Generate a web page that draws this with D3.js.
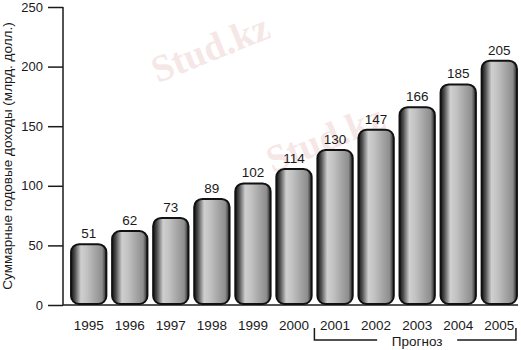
<!DOCTYPE html>
<html>
<head>
<meta charset="utf-8">
<script src="https://cdn.jsdelivr.net/npm/d3@7"></script>
<style>
  body { margin: 0; background: #fff; }
  text { font-family: "Liberation Sans", Arial, sans-serif; fill: #1a1a1a; }
</style>
</head>
<body>
<div id="chart"></div>
<script>
// data
var years = ["1995","1996","1997","1998","1999","2000","2001","2002","2003","2004","2005"];
var incomes = [51, 62, 73, 89, 102, 114, 130, 147, 166, 185, 205];
var yTicks = [0, 50, 100, 150, 200, 250];
var forecastYears = ["2001","2005"];
var yTitle = "Суммарные годовые доходы (млрд. долл.)";
var forecastLabel = "Прогноз";

var W = 521, H = 350;
var svg = d3.select("#chart").append("svg")
    .attr("width", W)
    .attr("height", H);

var defs = svg.append("defs");
var grad = defs.append("linearGradient")
    .attr("id", "barGrad")
    .attr("x1", "0%").attr("x2", "100%").attr("y1", "0%").attr("y2", "0%");
[[0, "#151515"], [0.1, "#4a4a4a"], [0.28, "#cfcfcf"], [0.45, "#c2c2c2"], [0.7, "#a3a3a3"], [0.88, "#8e8e8e"], [1, "#262626"]]
  .forEach(function(s) {
    grad.append("stop").attr("offset", s[0]).attr("stop-color", s[1]);
  });

// faint watermarks
var marks = [[215, 60, -22], [330, 150, -22]];
marks.forEach(function(m) {
  svg.append("text")
      .attr("transform", "translate(" + m[0] + "," + m[1] + ") rotate(" + m[2] + ")")
      .attr("text-anchor", "middle")
      .style("font-family", "'Liberation Serif', serif")
      .style("font-weight", "bold")
      .style("font-size", "38px")
      .style("fill", "#eac4c4")
      .style("opacity", 0.4)
      .text("Stud.kz");
});

var axisX = 63, baseY = 305;

var x = d3.scaleBand()
    .domain(years)
    .range([69, 519])
    .paddingInner(0.14)
    .paddingOuter(0.05);

var y = d3.scaleLinear()
    .domain([0, 250])
    .range([baseY, 7]);

// y axis
var yAxis = svg.append("g")
    .attr("transform", "translate(" + axisX + ",0)")
    .call(d3.axisLeft(y).tickValues(yTicks).tickSize(15).tickPadding(5));
yAxis.select(".domain").attr("d", "M0," + y(250) + "V" + baseY).attr("stroke", "#1a1a1a").attr("stroke-width", 1.5);
yAxis.selectAll(".tick line").attr("stroke", "#1a1a1a").attr("stroke-width", 1.5);
yAxis.selectAll(".tick text").style("font-size", "13px").style("fill", "#1a1a1a");

// baseline
svg.append("line")
    .attr("x1", axisX).attr("x2", 518)
    .attr("y1", baseY).attr("y2", baseY)
    .attr("stroke", "#1a1a1a").attr("stroke-width", 1.5);

// y title
svg.append("text")
    .attr("transform", "translate(12,156) rotate(-90)")
    .attr("text-anchor", "middle")
    .style("font-size", "13.5px")
    .text(yTitle);

// bars
svg.selectAll("rect.bar")
    .data(incomes)
    .enter().append("rect")
    .attr("class", "bar")
    .attr("x", function(d, i) { return x(years[i]); })
    .attr("y", function(d) { return y(d); })
    .attr("width", x.bandwidth())
    .attr("height", function(d) { return baseY - 1 - y(d); })
    .attr("rx", 8).attr("ry", 8)
    .style("fill", "url(#barGrad)")
    .style("stroke", "#111")
    .style("stroke-width", 2);

// value labels
svg.selectAll("text.val")
    .data(incomes)
    .enter().append("text")
    .attr("class", "val")
    .attr("x", function(d, i) { return x(years[i]) + x.bandwidth() / 2; })
    .attr("y", function(d) { return y(d) - 6; })
    .attr("text-anchor", "middle")
    .style("font-size", "13.5px")
    .text(function(d) { return d; });

// year labels
svg.selectAll("text.yr")
    .data(years)
    .enter().append("text")
    .attr("class", "yr")
    .attr("x", function(d) { return x(d) + x.bandwidth() / 2; })
    .attr("y", 330)
    .attr("text-anchor", "middle")
    .style("font-size", "13.5px")
    .text(function(d) { return d; });

// forecast bracket
var fx0 = x(forecastYears[0]) - 3;
var fx1 = x(forecastYears[1]) + x.bandwidth() - 1;
var fy0 = 328, fy1 = 340;
var fmid = (fx0 + fx1) / 2;
var br = svg.append("g").attr("stroke", "#1a1a1a").attr("stroke-width", 1.5).attr("fill", "none");
br.append("path").attr("d", "M" + fx0 + "," + fy0 + "V" + fy1 + "H" + (fmid - 38));
br.append("path").attr("d", "M" + (fmid + 42) + "," + fy1 + "H" + fx1 + "V" + fy0);
svg.append("text")
    .attr("x", fmid + 2)
    .attr("y", 346)
    .attr("text-anchor", "middle")
    .style("font-size", "13.5px")
    .text(forecastLabel);
</script>
</body>
</html>
